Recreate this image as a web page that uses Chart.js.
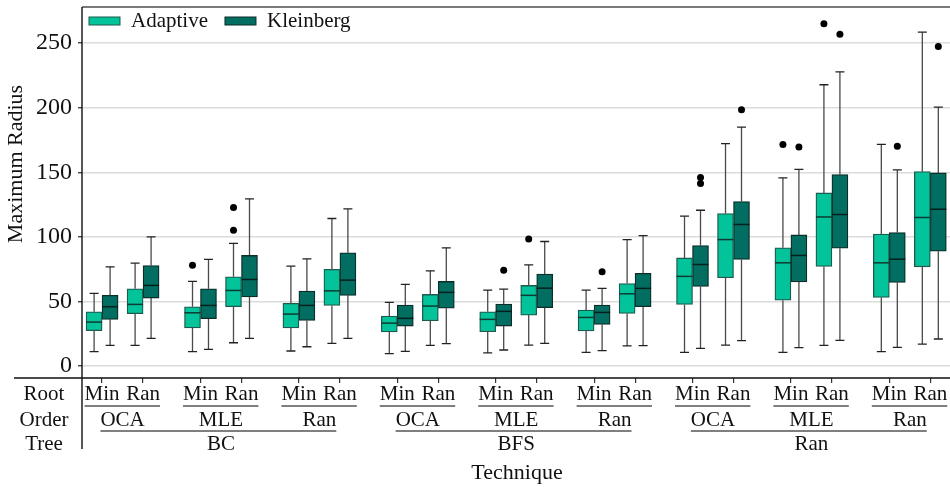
<!DOCTYPE html>
<html>
<head>
<meta charset="utf-8">
<script src="https://cdn.jsdelivr.net/npm/chart.js@4.4.1/dist/chart.umd.min.js"></script>
<style>
  html, body { margin: 0; padding: 0; background: #fff; }
  #wrap { width: 950px; height: 487px; position: relative; }
</style>
</head>
<body>
<div id="wrap"><canvas id="chart" width="950" height="487"></canvas></div>
<script>
// Hierarchical categories
const trees = ['BC', 'BFS', 'Ran'];
const orders = ['OCA', 'MLE', 'Ran'];
const roots = ['Min', 'Ran'];

// Box stats, one entry per (tree, order, root), in that nesting order
const adaptiveMin    = [11.1, 16.0, 11.1, 18.0, 11.6, 17.5,  9.5, 16.0, 10.1, 16.2, 10.6, 15.5, 10.6, 16.2, 10.6, 16.0, 11.1, 17.0];
const adaptiveQ1     = [27.3, 40.5, 29.4, 45.9, 29.4, 46.9, 26.3, 35.0, 26.5, 39.4, 27.1, 40.7, 47.7, 68.3, 51.0, 77.1, 53.1, 76.8];
const adaptiveMedian = [34.0, 47.7, 41.2, 58.5, 40.2, 58.2, 33.2, 46.4, 36.1, 54.7, 37.6, 55.9, 69.4, 97.9, 79.9, 115.4, 79.9, 115.0];
const adaptiveQ3     = [42.0, 59.8, 45.9, 69.1, 48.5, 74.8, 38.7, 55.4, 42.0, 62.4, 43.3, 63.9, 83.7, 118.1, 91.5, 134.0, 102.1, 150.5];
const adaptiveMax    = [56.2, 79.6, 65.5, 94.9, 77.3, 114.2, 49.2, 73.7, 58.8, 78.3, 58.8, 97.9, 116.0, 172.2, 145.6, 217.8, 171.6, 258.5];
const adaptiveOutliers = [[], [], [78.1], [105.2, 122.7], [], [], [], [], [], [98.4], [], [], [], [], [171.6], [265.0], [], []];

const kleinbergMin    = [16.0, 21.4, 12.9, 21.4, 14.9, 21.4, 11.3, 17.3, 12.4, 17.5, 11.9, 15.7, 13.7, 19.6, 14.2, 19.8, 14.4, 20.9];
const kleinbergQ1     = [36.1, 52.6, 36.6, 53.4, 35.3, 54.7, 30.9, 44.8, 30.9, 45.1, 32.2, 45.9, 61.6, 82.5, 65.2, 91.2, 64.7, 88.9];
const kleinbergMedian = [45.9, 62.4, 46.9, 67.0, 46.9, 66.5, 36.9, 57.0, 42.3, 60.3, 41.5, 60.1, 78.6, 109.6, 85.6, 117.3, 82.7, 121.4];
const kleinbergQ3     = [54.7, 77.8, 59.8, 85.6, 58.0, 87.6, 47.2, 65.5, 47.9, 71.1, 47.2, 71.7, 93.3, 127.3, 101.5, 148.2, 103.4, 149.5];
const kleinbergMax    = [76.8, 100.0, 82.5, 129.4, 83.0, 121.6, 63.2, 91.5, 59.5, 96.4, 60.1, 101.0, 120.6, 185.0, 152.3, 227.8, 151.8, 200.5];
const kleinbergOutliers = [[], [], [], [], [], [], [], [], [74.2], [], [72.9], [], [141.3, 145.9], [198.5], [169.6], [256.9], [170.1], [247.4]];

const yTicks = [0, 50, 100, 150, 200, 250];

const ADAPTIVE = '#03c39a';
const KLEINBERG = '#026d61';
const FONT = '"Liberation Serif", "DejaVu Serif", serif';

// x position of each (tree, order, root) slot: groups are a bit further apart than roots
const GROUP_STEP = 2.4;
const OFFSET = 0.195;
const positions = [];
trees.forEach((t, ti) => orders.forEach((o, oi) => roots.forEach((r, ri) => {
  positions.push((ti * orders.length + oi) * GROUP_STEP + ri);
})));

const boxData = (q1, q3, shift) => positions.map((p, i) => ({ x: p + shift, y: [q1[i], q3[i]] }));
const outlierData = (outs, shift) => {
  const pts = [];
  outs.forEach((list, i) => list.forEach(v => pts.push({ x: positions[i] + shift, y: v })));
  return pts;
};

const series = [
  { min: adaptiveMin, med: adaptiveMedian, max: adaptiveMax, shift: -OFFSET, medColor: '#0e3a32' },
  { min: kleinbergMin, med: kleinbergMedian, max: kleinbergMax, shift: OFFSET, medColor: '#05201c' }
];

// Whiskers, caps and medians drawn through the scales
const boxExtras = {
  id: 'boxExtras',
  beforeDatasetsDraw(chart) {
    const { ctx, scales: { x, y } } = chart;
    ctx.save();
    series.forEach((s, si) => {
      const meta = chart.getDatasetMeta(si);
      positions.forEach((p, i) => {
        const bar = meta.data[i];
        const cx = x.getPixelForValue(p + s.shift);
        const top = Math.min(bar.y, bar.base), bottom = Math.max(bar.y, bar.base);
        ctx.strokeStyle = '#4a4a4a';
        ctx.lineWidth = 1.3;
        ctx.beginPath();
        ctx.moveTo(cx, y.getPixelForValue(s.max[i])); ctx.lineTo(cx, top);
        ctx.moveTo(cx, bottom); ctx.lineTo(cx, y.getPixelForValue(s.min[i]));
        ctx.stroke();
        ctx.strokeStyle = '#222';
        ctx.beginPath();
        [s.max[i], s.min[i]].forEach(v => {
          const py = y.getPixelForValue(v);
          ctx.moveTo(cx - 4.5, py); ctx.lineTo(cx + 4.5, py);
        });
        ctx.stroke();
      });
    });
    ctx.restore();
  },
  afterDatasetsDraw(chart) {
    const { ctx, scales: { y } } = chart;
    ctx.save();
    series.forEach((s, si) => {
      const meta = chart.getDatasetMeta(si);
      positions.forEach((p, i) => {
        const bar = meta.data[i];
        const py = y.getPixelForValue(s.med[i]);
        ctx.strokeStyle = s.medColor;
        ctx.lineWidth = 1.5;
        ctx.beginPath();
        ctx.moveTo(bar.x - bar.width / 2, py); ctx.lineTo(bar.x + bar.width / 2, py);
        ctx.stroke();
      });
    });
    ctx.restore();
  }
};

// Frame, legend, axis title and the nested category labels
const decorations = {
  id: 'decorations',
  afterDraw(chart) {
    const { ctx, chartArea: a, scales: { x } } = chart;
    ctx.save();
    // top frame
    ctx.strokeStyle = '#7a7a7a';
    ctx.lineWidth = 2;
    ctx.beginPath(); ctx.moveTo(a.left, a.top); ctx.lineTo(a.right, a.top); ctx.stroke();
    // axes lines, extended into label area
    ctx.strokeStyle = '#111';
    ctx.lineWidth = 1.4;
    ctx.beginPath();
    ctx.moveTo(a.left, a.top); ctx.lineTo(a.left, a.bottom + 71);
    ctx.moveTo(14, a.bottom); ctx.lineTo(a.right, a.bottom);
    ctx.stroke();

    // legend
    ctx.font = '21px ' + FONT;
    ctx.textBaseline = 'middle';
    ctx.textAlign = 'left';
    let lx = a.left + 7;
    const ly = a.top + 14;
    [['Adaptive', ADAPTIVE, '#1e5b4f'], ['Kleinberg', KLEINBERG, '#0c2e29']].forEach(([name, fill, stroke]) => {
      ctx.fillStyle = fill; ctx.strokeStyle = stroke; ctx.lineWidth = 1;
      ctx.fillRect(lx, ly - 4, 31, 8); ctx.strokeRect(lx, ly - 4, 31, 8);
      ctx.fillStyle = '#111';
      ctx.fillText(name, lx + 42, ly);
      lx += 42 + ctx.measureText(name).width + 17;
    });

    // y title
    ctx.save();
    ctx.translate(16, 164);
    ctx.rotate(-Math.PI / 2);
    ctx.textAlign = 'center';
    ctx.font = '22px ' + FONT;
    ctx.fillText('Maximum Radius', 0, 0);
    ctx.restore();

    // nested labels
    const rowRoot = a.bottom + 16, rowOrder = a.bottom + 42, rowTree = a.bottom + 66;
    ctx.font = '21px ' + FONT;
    ctx.textAlign = 'center';
    ctx.fillStyle = '#111';
    ctx.fillText('Root', 44, rowRoot);
    ctx.fillText('Order', 44, rowOrder);
    ctx.fillText('Tree', 44, rowTree);
    ctx.strokeStyle = '#555';
    ctx.lineWidth = 1.5;
    let k = 0;
    trees.forEach((t, ti) => {
      const orderSpans = [];
      orders.forEach((o, oi) => {
        const px = roots.map(() => x.getPixelForValue(positions[k++]));
        roots.forEach((r, ri) => ctx.fillText(r, px[ri], rowRoot));
        const l = px[0] - ctx.measureText(roots[0]).width / 2;
        const rr = px[px.length - 1] + ctx.measureText(roots[roots.length - 1]).width / 2;
        ctx.beginPath(); ctx.moveTo(l, rowRoot + 12); ctx.lineTo(rr, rowRoot + 12); ctx.stroke();
        const cx = (px[0] + px[px.length - 1]) / 2;
        ctx.fillText(o, cx, rowOrder);
        const w = ctx.measureText(o).width;
        orderSpans.push([cx - w / 2, cx + w / 2, cx]);
      });
      const first = orderSpans[0], last = orderSpans[orderSpans.length - 1];
      ctx.beginPath(); ctx.moveTo(first[0], rowOrder + 11); ctx.lineTo(last[1], rowOrder + 11); ctx.stroke();
      ctx.fillText(t, orderSpans[Math.floor(orderSpans.length / 2)][2], rowTree);
    });
    ctx.font = '22px ' + FONT;
    ctx.fillText('Technique', (a.left + a.right) / 2 + 1, a.bottom + 95);
    ctx.restore();
  }
};

new Chart(document.getElementById('chart'), {
  type: 'bar',
  data: {
    datasets: [
      {
        label: 'Adaptive',
        data: boxData(adaptiveQ1, adaptiveQ3, -OFFSET),
        backgroundColor: ADAPTIVE,
        borderColor: '#1e5b4f',
        borderWidth: 1.3,
        borderSkipped: false,
        barThickness: 16,
        grouped: false
      },
      {
        label: 'Kleinberg',
        data: boxData(kleinbergQ1, kleinbergQ3, OFFSET),
        backgroundColor: KLEINBERG,
        borderColor: '#0c2e29',
        borderWidth: 1.3,
        borderSkipped: false,
        barThickness: 16,
        grouped: false
      },
      {
        type: 'scatter',
        label: 'Outliers',
        data: outlierData(adaptiveOutliers, -OFFSET).concat(outlierData(kleinbergOutliers, OFFSET)),
        backgroundColor: '#000',
        borderColor: '#000',
        pointRadius: 3.5,
        borderWidth: 0
      }
    ]
  },
  options: {
    responsive: false,
    animation: false,
    layout: { autoPadding: false, padding: { top: 7, left: 0, right: 0, bottom: 0 } },
    plugins: { legend: { display: false }, tooltip: { enabled: false } },
    scales: {
      x: {
        type: 'linear',
        offset: false,
        min: -0.49,
        max: 20.68,
        afterBuildTicks: s => { s.ticks = positions.map(v => ({ value: v })); },
        afterFit: s => { s.height = 109; s.paddingLeft = 0; s.paddingRight = 0; },
        ticks: { display: false },
        grid: { offset: false, drawOnChartArea: false, drawTicks: true, tickLength: 5, color: '#333', lineWidth: 1.2 },
        border: { display: false }
      },
      y: {
        min: -9.3,
        max: 278,
        afterBuildTicks: s => { s.ticks = yTicks.map(v => ({ value: v })); },
        afterFit: s => { s.width = 82; s.paddingTop = 0; s.paddingBottom = 0; },
        ticks: { color: '#111', font: { family: FONT, size: 24 }, padding: 6 },
        grid: { color: '#dcdcdc', lineWidth: 1.5, tickLength: 4, tickColor: '#222', tickWidth: 1.2 },
        border: { display: false }
      }
    }
  },
  plugins: [boxExtras, decorations]
});
</script>
</body>
</html>
